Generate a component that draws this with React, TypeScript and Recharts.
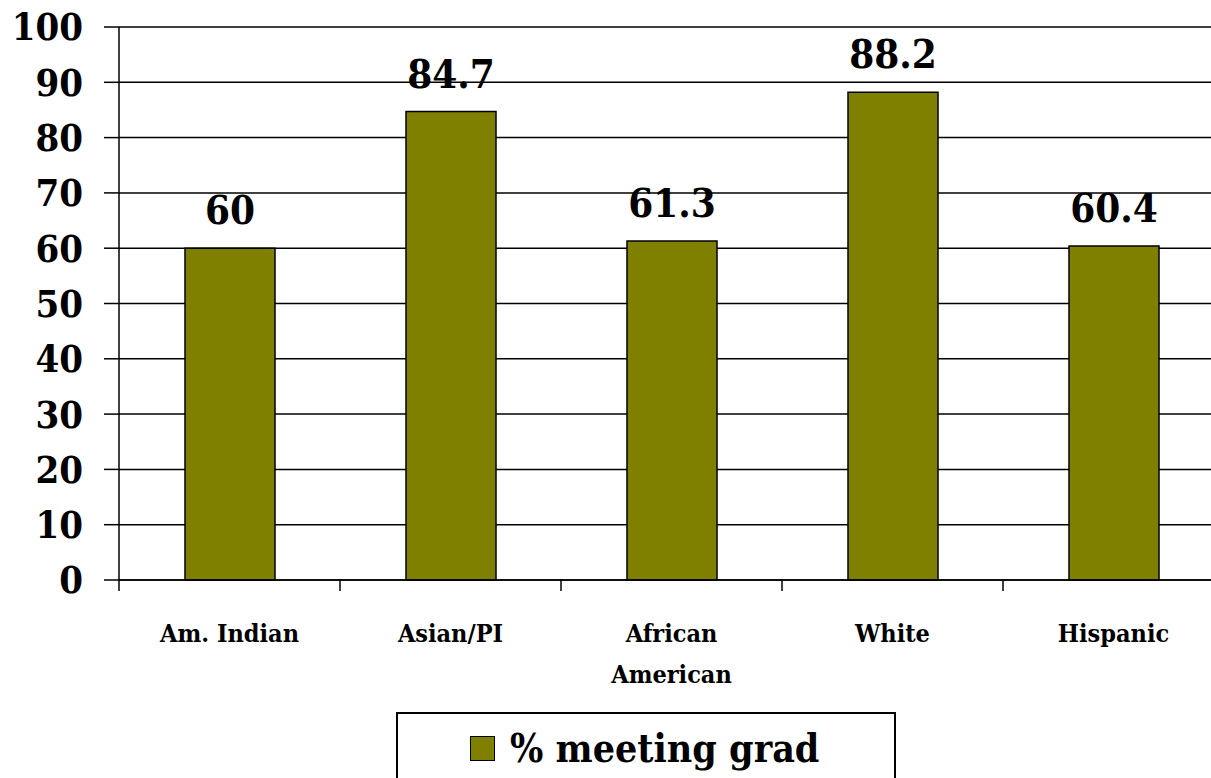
import { Bar, BarChart, CartesianGrid, LabelList, Legend, XAxis, YAxis } from 'recharts'

const groups = ['Am. Indian', 'Asian/PI', 'African\nAmerican', 'White', 'Hispanic']
const meetingGrad = [60, 84.7, 61.3, 88.2, 60.4]
const yTicks = [0, 10, 20, 30, 40, 50, 60, 70, 80, 90, 100]

const data = groups.map((group, i) => ({ group, value: meetingGrad[i] }))

// the only serif face in the sandbox is DejaVu Serif; the condensed cut is closest to Times
const FONT = '"DejaVu Serif Condensed", "DejaVu Serif", serif'
const OLIVE = '#808000'

// category labels sit under the bars, tick marks sit on the band edges
function GroupTick(props: any) {
	const { x, y, payload } = props
	const lines = String(payload.value).split('\n')
	const edge = x - (payload.offset ?? 0)
	return (
		<g>
			<line x1={edge} x2={edge} y1={y} y2={y + 11} stroke="#000" strokeWidth={1.5} />
			<text
				x={x}
				y={y + 62}
				textAnchor="middle"
				fontFamily={FONT}
				fontStretch="condensed"
				fontWeight="bold"
				fontSize={25}
				fill="#000"
			>
				{lines.map((line, i) => (
					<tspan key={line} x={x} dy={i === 0 ? 0 : 41}>
						{line}
					</tspan>
				))}
			</text>
		</g>
	)
}

function LegendBox(props: any) {
	const item = props.payload?.[0]
	return (
		<div
			style={{
				position: 'relative',
				boxSizing: 'border-box',
				width: 500,
				height: 90,
				border: '2px solid #000',
				background: '#fff',
			}}
		>
			<span
				style={{
					position: 'absolute',
					left: 72,
					top: 22,
					width: 25,
					height: 25,
					boxSizing: 'border-box',
					background: item?.color ?? OLIVE,
					border: '1.5px solid #000',
				}}
			/>
			<span
				style={{
					position: 'absolute',
					left: 112,
					top: 12,
					fontFamily: FONT,
					fontStretch: 'condensed',
					fontWeight: 'bold',
					fontSize: 39,
					lineHeight: '44px',
					whiteSpace: 'nowrap',
					color: '#000',
				}}
			>
				{item?.value}
			</span>
		</div>
	)
}

export default function App() {
	return (
		<div
			style={{
				position: 'absolute',
				left: 0,
				top: 0,
				width: 1211,
				height: 778,
				overflow: 'hidden',
				background: '#fff',
			}}
		>
			<BarChart
				width={1230}
				height={778}
				data={data}
				margin={{ top: 27, right: 6, left: 0, bottom: 88 }}
			>
				<CartesianGrid vertical={false} stroke="#000" strokeWidth={1.5} />
				<XAxis
					dataKey="group"
					height={110}
					interval={0}
					tickLine={false}
					tickSize={0}
					tickMargin={0}
					axisLine={{ stroke: '#000', strokeWidth: 1.5 }}
					tick={<GroupTick />}
				/>
				<YAxis
					width={119}
					domain={[0, 100]}
					ticks={yTicks}
					interval={0}
					tickSize={15}
					tickMargin={21}
					tickLine={{ stroke: '#000', strokeWidth: 1.5 }}
					axisLine={{ stroke: '#000', strokeWidth: 1.5 }}
					tick={{
						fill: '#000',
						fontSize: 38,
						fontWeight: 'bold',
						fontFamily: FONT,
						fontStretch: 'condensed',
					}}
				/>
				<Legend
					layout="vertical"
					align="center"
					verticalAlign="middle"
					wrapperStyle={{ left: 396, top: 712, width: 500, height: 90 }}
					content={<LegendBox />}
				/>
				<Bar
					dataKey="value"
					name="% meeting grad"
					fill={OLIVE}
					stroke="#000"
					strokeWidth={1.5}
					barSize={90}
					isAnimationActive={false}
				>
					<LabelList
						dataKey="value"
						position="top"
						offset={24}
						fill="#000"
						fontSize={40}
						fontWeight="bold"
						fontFamily={FONT}
						fontStretch="condensed"
					/>
				</Bar>
			</BarChart>
		</div>
	)
}
